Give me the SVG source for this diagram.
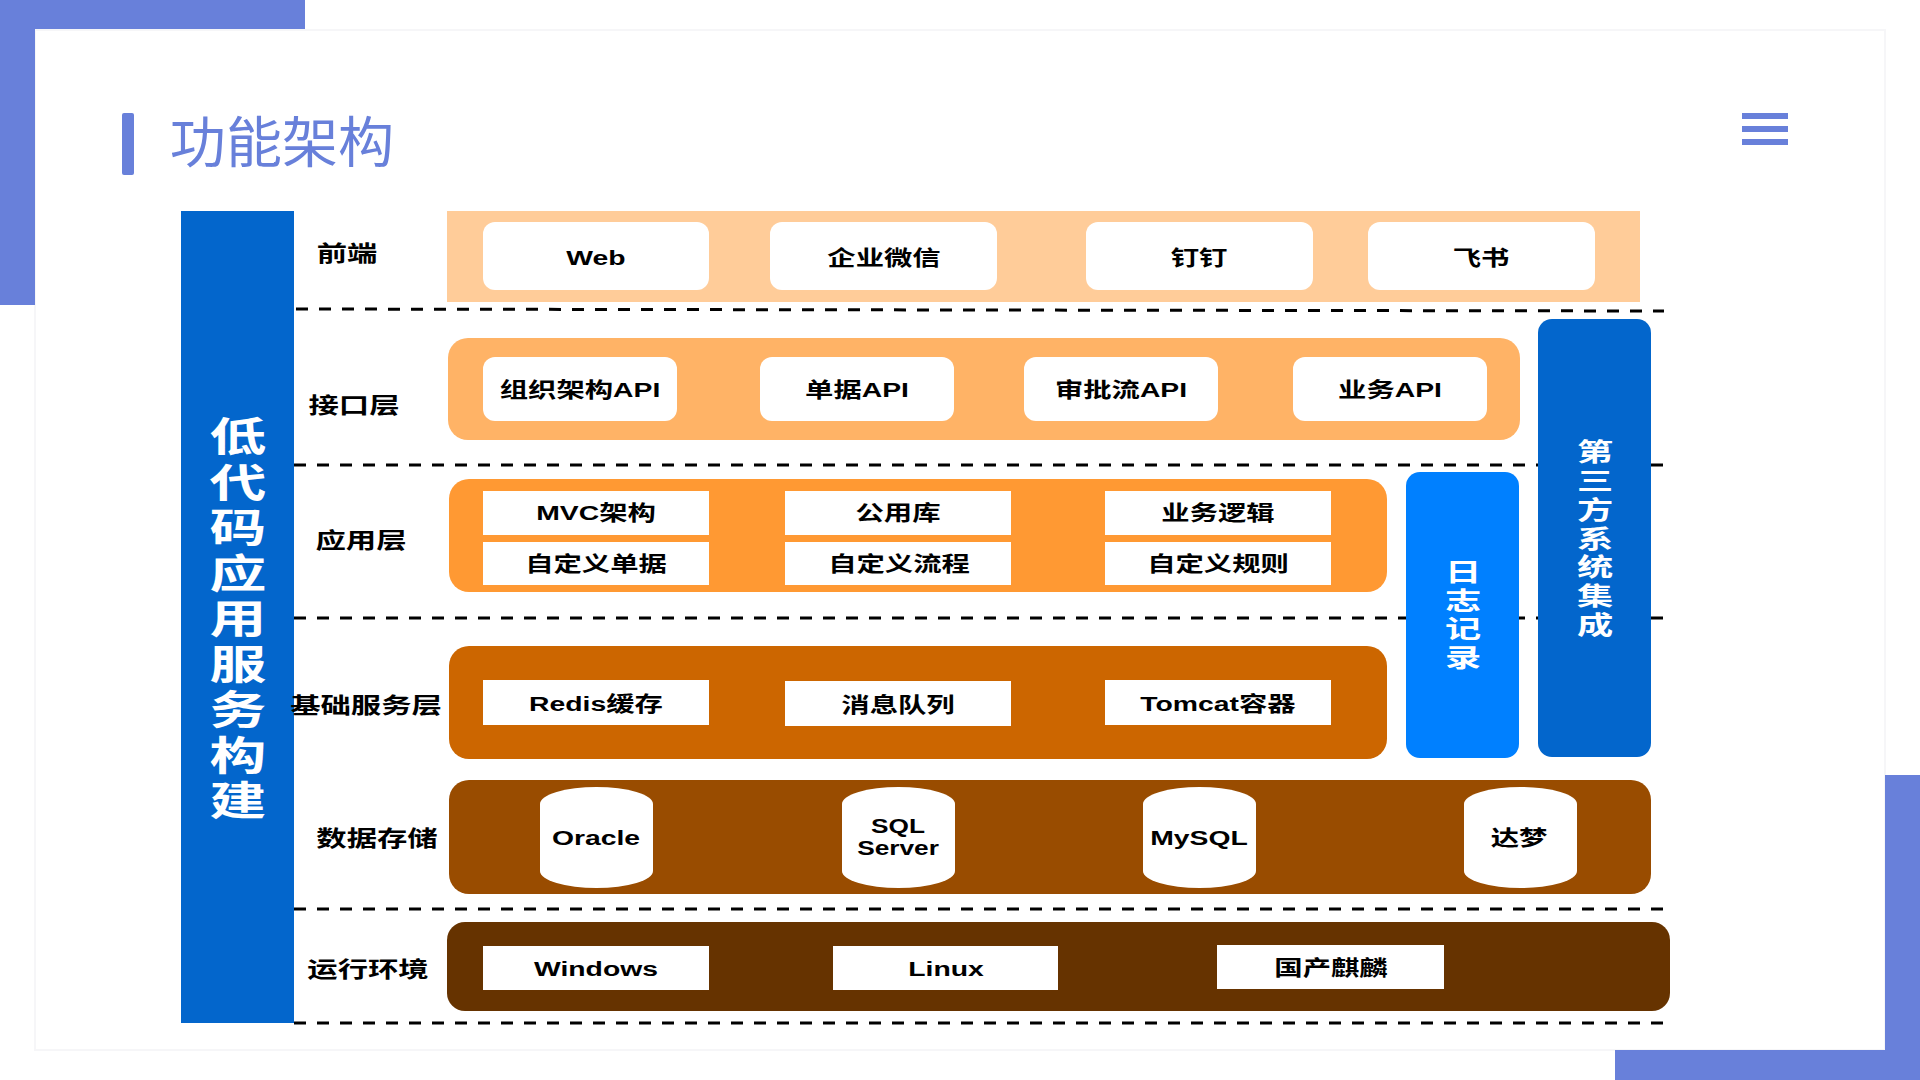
<svg xmlns="http://www.w3.org/2000/svg" width="1920" height="1080" viewBox="0 0 1920 1080">
<style>
text{font-family:"Liberation Sans","Noto Sans CJK SC",sans-serif;font-weight:700;text-anchor:middle;fill:#000}
.in{font-size:21px}
.lb{font-size:22px}
.big{font-size:40px;fill:#fff}
.side{font-size:25px;fill:#fff}
.title{font-family:"Noto Sans CJK SC",sans-serif;font-weight:400;font-size:55px;fill:#6880DA}
.w{fill:#fff}
.dash{stroke:#000;stroke-width:3;stroke-dasharray:12 11;fill:none}
.acc{fill:#6880DA}
</style>
<rect width="1920" height="1080" fill="#fff"/>
<g id="background">
<rect class="acc" x="0" y="0" width="305" height="305"/>
<rect class="acc" x="1615" y="775" width="305" height="305"/>
<rect x="35" y="30" width="1850" height="1020" fill="#fff" stroke="#f6f6f8" stroke-width="2"/>
<rect class="acc" x="0" y="0" width="305" height="29"/>
<rect class="acc" x="0" y="0" width="35" height="305"/>
<rect class="acc" x="1885" y="775" width="35" height="305"/>
<rect class="acc" x="1615" y="1050" width="305" height="30"/>
</g>
<g id="header">
<rect class="acc" x="122" y="113" width="12" height="62" rx="2"/>
<text class="title" transform="translate(282 162) scale(1.02 1)">功能架构</text>
<rect class="acc" x="1742" y="113" width="46" height="6"/>
<rect class="acc" x="1742" y="126" width="46" height="6"/>
<rect class="acc" x="1742" y="139" width="46" height="6"/>
</g>
<g id="connectors">
<path class="dash" d="M296 309L1664 311"/>
<path class="dash" d="M294 465H1664"/>
<path class="dash" d="M294 618H1664"/>
<path class="dash" d="M294 909H1664"/>
<path class="dash" d="M294 1023H1664"/>
</g>
<g id="platform">
<rect x="181" y="211" width="113" height="812" fill="#0366CC"/>
<text class="big" transform="translate(238 451) scale(1.42 1)">低</text>
<text class="big" transform="translate(238 497) scale(1.42 1)">代</text>
<text class="big" transform="translate(238 542) scale(1.42 1)">码</text>
<text class="big" transform="translate(238 588) scale(1.42 1)">应</text>
<text class="big" transform="translate(238 633) scale(1.42 1)">用</text>
<text class="big" transform="translate(238 679) scale(1.42 1)">服</text>
<text class="big" transform="translate(238 724) scale(1.42 1)">务</text>
<text class="big" transform="translate(238 770) scale(1.42 1)">构</text>
<text class="big" transform="translate(238 815) scale(1.42 1)">建</text>
</g>
<g id="frontend">
<rect x="447" y="211" width="1193" height="91" fill="#FFCC99"/>
<text class="lb" transform="translate(347 261) scale(1.38 1)">前端</text>
<rect class="w" x="483" y="222" width="226" height="68" rx="12"/>
<text class="in" transform="translate(596 265) scale(1.35 1)">Web</text>
<rect class="w" x="770" y="222" width="227" height="68" rx="12"/>
<text class="in" transform="translate(884 265) scale(1.35 1)">企业微信</text>
<rect class="w" x="1086" y="222" width="227" height="68" rx="12"/>
<text class="in" transform="translate(1199 265) scale(1.35 1)">钉钉</text>
<rect class="w" x="1368" y="222" width="227" height="68" rx="12"/>
<text class="in" transform="translate(1481 265) scale(1.35 1)">飞书</text>
</g>
<g id="api-layer">
<rect x="448" y="338" width="1072" height="102" rx="20" fill="#FFB366"/>
<text class="lb" transform="translate(354 413) scale(1.38 1)">接口层</text>
<rect class="w" x="483" y="357" width="194" height="64" rx="12"/>
<text class="in" transform="translate(580 397) scale(1.35 1)">组织架构API</text>
<rect class="w" x="760" y="357" width="194" height="64" rx="12"/>
<text class="in" transform="translate(857 397) scale(1.35 1)">单据API</text>
<rect class="w" x="1024" y="357" width="194" height="64" rx="12"/>
<text class="in" transform="translate(1121 397) scale(1.35 1)">审批流API</text>
<rect class="w" x="1293" y="357" width="194" height="64" rx="12"/>
<text class="in" transform="translate(1390 397) scale(1.35 1)">业务API</text>
</g>
<g id="app-layer">
<rect x="449" y="479" width="938" height="113" rx="20" fill="#FF9933"/>
<text class="lb" transform="translate(361 548) scale(1.38 1)">应用层</text>
<rect class="w" x="483" y="491" width="226" height="44"/>
<text class="in" transform="translate(596 520) scale(1.35 1)">MVC架构</text>
<rect class="w" x="785" y="491" width="226" height="44"/>
<text class="in" transform="translate(898 520) scale(1.35 1)">公用库</text>
<rect class="w" x="1105" y="491" width="226" height="44"/>
<text class="in" transform="translate(1218 520) scale(1.35 1)">业务逻辑</text>
<rect class="w" x="483" y="542" width="226" height="43"/>
<text class="in" transform="translate(596 571) scale(1.35 1)">自定义单据</text>
<rect class="w" x="785" y="542" width="226" height="43"/>
<text class="in" transform="translate(899 571) scale(1.35 1)">自定义流程</text>
<rect class="w" x="1105" y="542" width="226" height="43"/>
<text class="in" transform="translate(1218 571) scale(1.35 1)">自定义规则</text>
</g>
<g id="log">
<rect x="1406" y="472" width="113" height="286" rx="14" fill="#0080FF"/>
<text class="side" transform="translate(1463 581) scale(1.45 1)">日</text>
<text class="side" transform="translate(1463 610) scale(1.45 1)">志</text>
<text class="side" transform="translate(1463 638) scale(1.45 1)">记</text>
<text class="side" transform="translate(1463 667) scale(1.45 1)">录</text>
</g>
<g id="third-party">
<rect x="1538" y="319" width="113" height="438" rx="14" fill="#0366CC"/>
<text class="side" transform="translate(1595 461) scale(1.45 1)">第</text>
<text class="side" transform="translate(1595 490) scale(1.45 1)">三</text>
<text class="side" transform="translate(1595 519) scale(1.45 1)">方</text>
<text class="side" transform="translate(1595 548) scale(1.45 1)">系</text>
<text class="side" transform="translate(1595 576) scale(1.45 1)">统</text>
<text class="side" transform="translate(1595 605) scale(1.45 1)">集</text>
<text class="side" transform="translate(1595 634) scale(1.45 1)">成</text>
</g>
<g id="base-services">
<rect x="449" y="646" width="938" height="113" rx="20" fill="#CC6600"/>
<text class="lb" transform="translate(366 713) scale(1.38 1)">基础服务层</text>
<rect class="w" x="483" y="680" width="226" height="45"/>
<text class="in" transform="translate(596 711) scale(1.35 1)">Redis缓存</text>
<rect class="w" x="785" y="681" width="226" height="45"/>
<text class="in" transform="translate(898 712) scale(1.35 1)">消息队列</text>
<rect class="w" x="1105" y="680" width="226" height="45"/>
<text class="in" transform="translate(1218 711) scale(1.35 1)">Tomcat容器</text>
</g>
<g id="data-storage">
<rect x="449" y="780" width="1202" height="114" rx="20" fill="#994C00"/>
<text class="lb" transform="translate(377 846) scale(1.38 1)">数据存储</text>
<path class="w" id="db-oracle" d="M540 804A56.5 17 0 0 1 653 804V871A56.5 17 0 0 1 540 871Z"/>
<text class="in" transform="translate(596 845) scale(1.35 1)">Oracle</text>
<path class="w" id="db-sql" d="M842 804A56.5 17 0 0 1 955 804V871A56.5 17 0 0 1 842 871Z"/>
<text class="in" transform="translate(898 833) scale(1.25 1)">SQL</text>
<text class="in" transform="translate(898 855) scale(1.25 1)">Server</text>
<path class="w" id="db-mysql" d="M1143 804A56.5 17 0 0 1 1256 804V871A56.5 17 0 0 1 1143 871Z"/>
<text class="in" transform="translate(1199 845) scale(1.35 1)">MySQL</text>
<path class="w" id="db-dameng" d="M1464 804A56.5 17 0 0 1 1577 804V871A56.5 17 0 0 1 1464 871Z"/>
<text class="in" transform="translate(1519 845) scale(1.35 1)">达梦</text>
</g>
<g id="runtime">
<rect x="447" y="922" width="1223" height="89" rx="18" fill="#663300"/>
<text class="lb" transform="translate(368 977) scale(1.38 1)">运行环境</text>
<rect class="w" x="483" y="946" width="226" height="44"/>
<text class="in" transform="translate(596 976) scale(1.35 1)">Windows</text>
<rect class="w" x="833" y="946" width="225" height="44"/>
<text class="in" transform="translate(946 976) scale(1.35 1)">Linux</text>
<rect class="w" x="1217" y="945" width="227" height="44"/>
<text class="in" transform="translate(1331 975) scale(1.35 1)">国产麒麟</text>
</g>
</svg>
